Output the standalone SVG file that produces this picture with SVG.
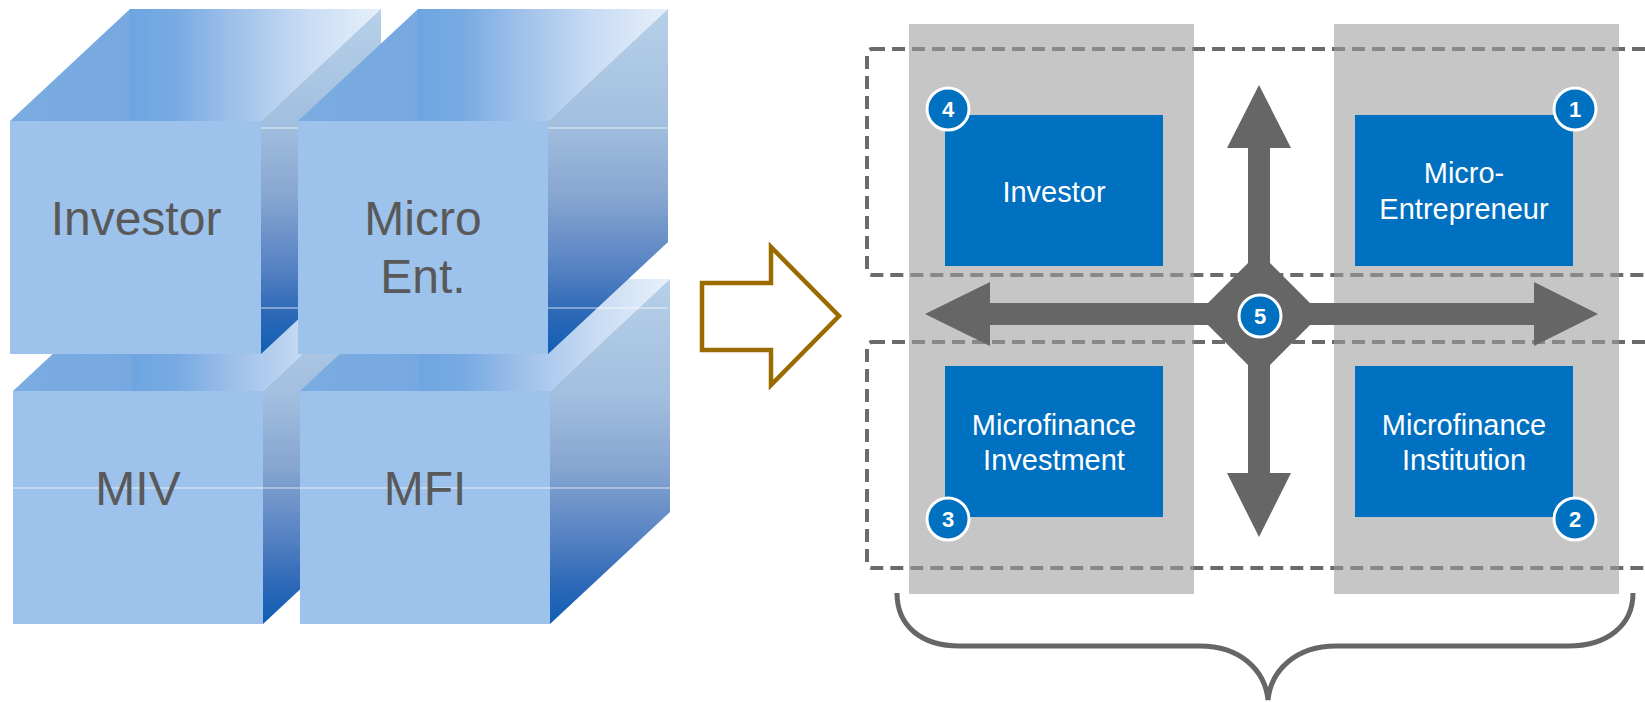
<svg xmlns="http://www.w3.org/2000/svg" width="1645" height="702" viewBox="0 0 1645 702">
<defs>
<linearGradient id="topG" x1="0" y1="0" x2="1" y2="0">
<stop offset="0" stop-color="#7aabe1"/>
<stop offset="0.32" stop-color="#77a9e0"/>
<stop offset="0.325" stop-color="#6ea5e1"/>
<stop offset="0.45" stop-color="#79abe2"/>
<stop offset="0.6" stop-color="#9fc0ea"/>
<stop offset="0.8" stop-color="#c9dcf3"/>
<stop offset="1" stop-color="#e6f0fa"/>
</linearGradient>
<linearGradient id="sideG" x1="0" y1="0" x2="0" y2="1">
<stop offset="0" stop-color="#b6d0e8"/>
<stop offset="0.33" stop-color="#a3bfdf"/>
<stop offset="0.55" stop-color="#86a5d0"/>
<stop offset="0.75" stop-color="#5682c3"/>
<stop offset="0.88" stop-color="#2e69b7"/>
<stop offset="1" stop-color="#105eb4"/>
</linearGradient>
</defs>
<style>
.front{fill:#9dc2eb}
.top{fill:url(#topG)}
.side{fill:url(#sideG)}
.cubeText{font-family:"Liberation Sans",Arial,sans-serif;font-size:48px;fill:#595959;text-anchor:middle}
.seam{stroke:#ffffff;stroke-opacity:0.75;stroke-width:1.2}
.col{fill:#9d9d9d;fill-opacity:0.58}
.dash{fill:none;stroke:#6b6b6b;stroke-width:4;stroke-dasharray:13 7}
.box{fill:#0070c0}
.boxText{font-family:"Liberation Sans",Arial,sans-serif;font-size:29px;fill:#ffffff;text-anchor:middle}
.badge circle{fill:#0070c0;stroke:#ffffff;stroke-width:3}
.badge text{font-family:"Liberation Sans",Arial,sans-serif;font-size:22px;font-weight:bold;fill:#ffffff;text-anchor:middle}
.conn{fill:#666666}
</style>

<g id="cube-miv">
<polygon class="top" points="13,391 133,279 383,279 263,391"/>
<polygon class="side" points="263,391 383,279 383,512 263,624"/>
<rect class="front" x="13" y="391" width="250" height="233"/>
</g>
<g id="cube-mfi">
<polygon class="top" points="300,391 420,279 670,279 550,391"/>
<polygon class="side" points="550,391 670,279 670,512 550,624"/>
<rect class="front" x="300" y="391" width="250" height="233"/>
</g>
<g id="cube-investor">
<polygon class="top" points="10,121 130,9 381,9 261,121"/>
<polygon class="side" points="261,121 381,9 381,242 261,354"/>
<rect class="front" x="10" y="121" width="251" height="233"/>
</g>
<g id="cube-microent">
<polygon class="top" points="298,121 418,9 668,9 548,121"/>
<polygon class="side" points="548,121 668,9 668,242 548,354"/>
<rect class="front" x="298" y="121" width="250" height="233"/>
</g>
<g id="seams">
<line class="seam" x1="261" y1="128" x2="298" y2="128"/>
<line class="seam" x1="548" y1="128" x2="668" y2="128"/>
<line class="seam" x1="261" y1="308" x2="298" y2="308"/>
<line class="seam" x1="548" y1="308" x2="668" y2="308"/>
<line class="seam" x1="13" y1="488" x2="670" y2="488"/>
</g>
<g id="cube-labels">
<text class="cubeText" x="136" y="235">Investor</text>
<text class="cubeText" x="423" y="235">Micro</text>
<text class="cubeText" x="423" y="293">Ent.</text>
<text class="cubeText" x="138" y="505">MIV</text>
<text class="cubeText" x="425" y="505">MFI</text>
</g>

<g id="dashed-groups">
<rect class="dash" x="867" y="49" width="820" height="226" rx="5"/>
<rect class="dash" x="867" y="342" width="820" height="226" rx="5"/>
</g>
<g id="columns">
<rect class="col" x="909" y="24" width="285" height="570"/>
<rect class="col" x="1334" y="24" width="285" height="570"/>
</g>

<g id="node-investor">
<rect class="box" x="945" y="115" width="218" height="151"/>
<text class="boxText" x="1054" y="202">Investor</text>
</g>
<g id="node-microentrepreneur">
<rect class="box" x="1355" y="115" width="218" height="151"/>
<text class="boxText" x="1464" y="183">Micro-</text>
<text class="boxText" x="1464" y="219">Entrepreneur</text>
</g>
<g id="node-miv">
<rect class="box" x="945" y="366" width="218" height="151"/>
<text class="boxText" x="1054" y="435">Microfinance</text>
<text class="boxText" x="1054" y="470">Investment</text>
</g>
<g id="node-mfi">
<rect class="box" x="1355" y="366" width="218" height="151"/>
<text class="boxText" x="1464" y="435">Microfinance</text>
<text class="boxText" x="1464" y="470">Institution</text>
</g>

<g id="connectors">
<polygon id="transform-arrow" points="702,283 771,283 771,247 839,316 771,385 771,350 702,350" fill="#ffffff" stroke="#9a6b00" stroke-width="4.5"/>
<path id="cross-arrow" class="conn" d="M1259 85 L1291 148 L1270 148 L1270 263 L1310 303 L1534 303 L1534 282 L1598 314 L1534 346 L1534 325 L1310 325 L1270 365 L1270 473 L1291 473 L1259 537 L1227 473 L1248 473 L1248 365 L1208 325 L990 325 L990 346 L925 314 L990 282 L990 303 L1208 303 L1248 263 L1248 148 L1227 148 Z"/>
<path id="brace" d="M897 593 C897 625 920 646 960 646 L1200 646 C1240 646 1265 670 1268 700 C1271 670 1296 646 1336 646 L1568 646 C1608 646 1633 625 1633 593" fill="none" stroke="#666666" stroke-width="5"/>
</g>

<g id="badge-1" class="badge"><circle cx="1575" cy="109" r="21"/><text x="1575" y="117">1</text></g>
<g id="badge-2" class="badge"><circle cx="1575" cy="519" r="21"/><text x="1575" y="527">2</text></g>
<g id="badge-3" class="badge"><circle cx="948" cy="519" r="21"/><text x="948" y="527">3</text></g>
<g id="badge-4" class="badge"><circle cx="948" cy="109" r="21"/><text x="948" y="117">4</text></g>
<g id="badge-5" class="badge"><circle cx="1260" cy="316" r="21"/><text x="1260" y="324">5</text></g>
</svg>
